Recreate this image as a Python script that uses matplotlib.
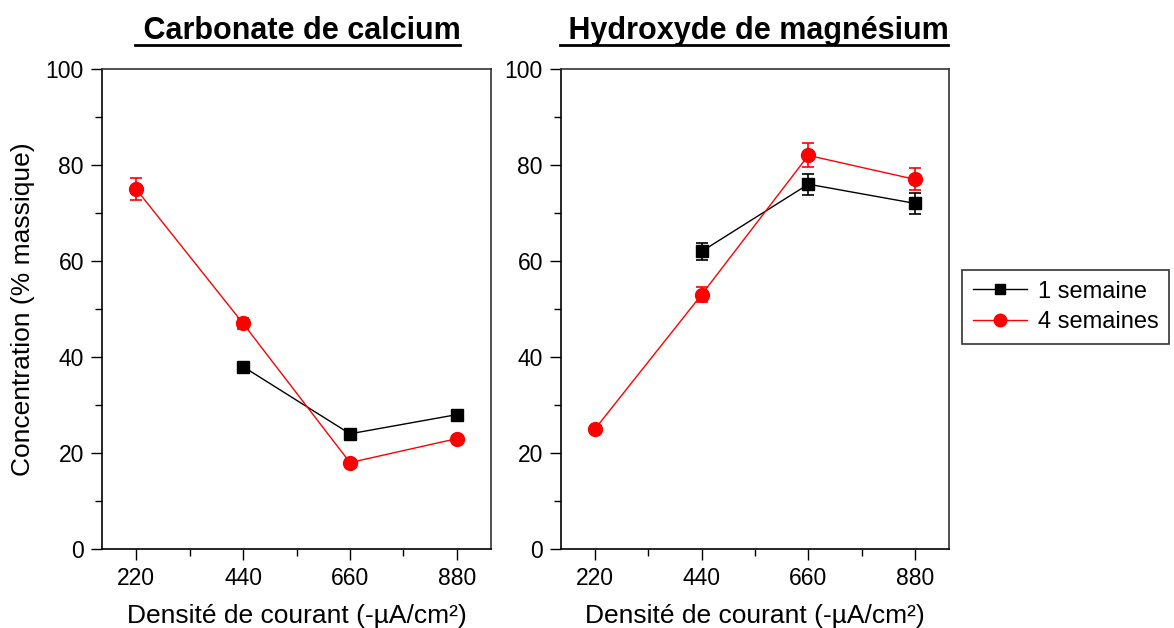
import matplotlib
matplotlib.use("Agg")
import matplotlib.pyplot as plt
from matplotlib.lines import Line2D
from matplotlib.ticker import MultipleLocator

plt.rcParams["font.family"] = ["Liberation Sans", "DejaVu Sans"]

# current density (-uA/cm2)
dens_1w = [440, 660, 880]
dens_4w = [220, 440, 660, 880]

# calcium carbonate, % by mass
caco3_1w = [38, 24, 28]
caco3_1w_err = [0.8, 0.6, 0.6]
caco3_4w = [75, 47, 18, 23]
caco3_4w_err = [2.3, 1.2, 0.6, 0.6]

# magnesium hydroxide, % by mass
mgoh_1w = [62, 76, 72]
mgoh_1w_err = [1.8, 2.2, 2.2]
mgoh_4w = [25, 53, 82, 77]
mgoh_4w_err = [0.6, 1.6, 2.5, 2.3]

titles = [" Carbonate de calcium", " Hydroxyde de magnésium"]
series_labels = ["1 semaine", "4 semaines"]
xticks = [220, 440, 660, 880]

fig = plt.figure(figsize=(11.74, 6.28), dpi=100)
ax1 = fig.add_axes([102 / 1174, 1 - 549 / 628, 389 / 1174, 480 / 628])
ax2 = fig.add_axes([561 / 1174, 1 - 549 / 628, 388 / 1174, 480 / 628])

panels = [
    (ax1, caco3_1w, caco3_1w_err, caco3_4w, caco3_4w_err),
    (ax2, mgoh_1w, mgoh_1w_err, mgoh_4w, mgoh_4w_err),
]

for ax, y1, e1, y4, e4 in panels:
    ax.errorbar(dens_1w, y1, yerr=e1, color="black", marker="s", markersize=9,
                lw=1, capsize=4, elinewidth=1.2, capthick=1.2, zorder=3)
    ax.errorbar(dens_4w, y4, yerr=e4, color="#ff0000", marker="o", markersize=10,
                lw=1, capsize=4, elinewidth=1.2, capthick=1.2, zorder=4)
    ax.set_xlim(150, 950)
    ax.set_ylim(0, 100)
    ax.set_xticks(xticks)
    ax.xaxis.set_minor_locator(MultipleLocator(110))
    ax.yaxis.set_major_locator(MultipleLocator(20))
    ax.yaxis.set_minor_locator(MultipleLocator(10))
    ax.tick_params(which="major", direction="out", length=8, width=1, labelsize=16.5, pad=5)
    ax.tick_params(which="minor", direction="out", length=5, width=1)
    for side in ("left", "bottom"):
        ax.spines[side].set_linewidth(1.2)
    for side in ("top", "right"):
        ax.spines[side].set_linewidth(1.2)
        ax.spines[side].set_color("#333333")
    ax.set_xlabel("Densité de courant (-µA/cm²)", fontsize=19, labelpad=10)

ax1.set_ylabel("Concentration (% massique)", fontsize=19, labelpad=8)

handles = [
    Line2D([], [], color="black", marker="s", markersize=7, lw=1),
    Line2D([], [], color="#ff0000", marker="o", markersize=9, lw=1),
]
leg = fig.legend(handles, series_labels, loc="upper left",
                 bbox_to_anchor=(962 / 1174, 1 - 270 / 628),
                 fontsize=17, frameon=True, fancybox=False, edgecolor="black",
                 handlelength=2.3, borderpad=0.45, labelspacing=0.35, handletextpad=0.45,
                 borderaxespad=0)
leg.get_frame().set_linewidth(1.2)

# bold, underlined panel titles
title_y = [1 - 31 / 628, 1 - 31 / 628]
title_x = [(130 + 465) / 2 / 1174, (555 + 953) / 2 / 1174]
fig.canvas.draw()
renderer = fig.canvas.get_renderer()
for tx, ty, label in zip(title_x, title_y, titles):
    t = fig.text(tx, ty, label, fontsize=22, fontweight="bold", ha="center", va="center")
    bb = t.get_window_extent(renderer).transformed(fig.transFigure.inverted())
    uy = bb.y0 + 0.002
    fig.add_artist(Line2D([bb.x0, bb.x1], [uy, uy], color="black", lw=2,
                          transform=fig.transFigure))

fig.savefig("out.png", dpi=100)
